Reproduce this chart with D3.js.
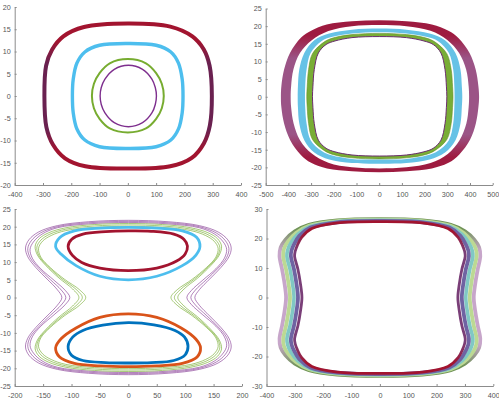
<!DOCTYPE html>
<html>
<head>
<meta charset="utf-8">
<script src="https://cdn.jsdelivr.net/npm/d3@7"></script>
<style>
    body { margin: 0; background: #fff; }
    svg { display: block; }
    .tick text { font-family: Arial, "Liberation Sans", sans-serif; font-size: 7.2px; fill: #555; }
    .domain, .tick line { stroke: #8c8c8c; }
</style>
</head>
<body>
<svg id="chart" width="499" height="403"></svg>
<script>
/**
 * Tick labels of the four panels.
 */
const p1XTicks = [-400, -300, -200, -100, 0, 100, 200, 300, 400],
    p1YTicks = [-20, -15, -10, -5, 0, 5, 10, 15, 20],
    p2XTicks = [-500, -400, -300, -200, -100, 0, 100, 200, 300, 400, 500],
    p2YTicks = [-25, -20, -15, -10, -5, 0, 5, 10, 15, 20, 25],
    p3XTicks = [-200, -150, -100, -50, 0, 50, 100, 150, 200],
    p3YTicks = [-25, -20, -15, -10, -5, 0, 5, 10, 15, 20, 25],
    p4XTicks = [-400, -300, -200, -100, 0, 100, 200, 300, 400],
    p4YTicks = [-30, -20, -10, 0, 10, 20, 30];

/**
 * Panel 1: four closed orbits.
 */
const p1Outer = [[0,16.3],[150,15.6],[228,13.4],[268,10.5],[289,6.8],[297,0],[290,-6.6],[269,-10.6],[226,-13.9],[150,-15.8],[0,-16.3],[-150,-15.8],[-222,-14.0],[-265,-10.9],[-288,-7.0],[-295,0],[-289,6.8],[-268,10.4],[-228,13.4],[-155,15.5]];
const p1Cyan = [[0,11.8],[100,11.4],[152,9.9],[179,7.4],[192,3.8],[195,0],[192,-3.8],[179,-7.4],[152,-9.9],[100,-11.4],[0,-11.8],[-100,-11.4],[-152,-9.9],[-180,-7.4],[-193,-3.8],[-196,0],[-193,3.8],[-180,7.4],[-152,9.9],[-100,11.4]];
const p1Green = [[0,8.3],[64,7.35],[100,5.15],[120,2.75],[127,0],[120,-2.75],[100,-5.15],[64,-7.3],[0,-8.2],[-64,-7.3],[-100,-5.15],[-120,-2.75],[-127,0],[-120,2.75],[-100,5.15],[-64,7.35]];
const p1Purple = [[2,6.9],[52,6.0],[85,3.8],[97,1.9],[101,0],[97,-1.9],[85,-3.8],[52,-6.0],[2,-6.9],[-48,-6.0],[-81,-3.8],[-94,-1.9],[-98,0],[-94,1.9],[-81,3.8],[-48,6.0]];

/**
 * Panel 2: three bands of orbits (outer and inner edge of each) and one thin orbit.
 */
const p2OuterOut = [[0,21.7],[120,21.4],[232,20.5],[305,18.7],[350,16.6],[398,12.4],[425,7.7],[437,3],[440,0],[437,-3],[426,-7.5],[400,-12.2],[352,-16.4],[303,-18.8],[232,-20.3],[120,-21.1],[0,-21.4],[-120,-21.1],[-230,-20.3],[-300,-18.7],[-346,-16.4],[-392,-12.3],[-419,-7.6],[-431,-3],[-433,0],[-431,3],[-419,7.7],[-393,12.4],[-344,16.8],[-300,18.7],[-231,20.5],[-120,21.4]];
const p2OuterIn = [[0,20.3],[120,20.0],[226,18.7],[300,16.1],[352,12.4],[383,7.7],[394,3],[396,0],[394,-3],[384,-7.6],[354,-12.3],[302,-16.2],[226,-18.8],[120,-20.0],[0,-20.3],[-120,-20.0],[-224,-18.7],[-297,-16.1],[-349,-12.3],[-377,-7.6],[-388,-3],[-390,0],[-388,3],[-378,7.7],[-349,12.4],[-297,16.0],[-224,18.6],[-120,20.0]];
const p2CyanOut = [[0,19.3],[120,19.0],[222,17.9],[290,16.0],[336,12.4],[358,7.7],[364,3],[366,0],[364,-3],[358,-7.6],[336,-12.3],[290,-15.8],[222,-17.8],[120,-18.8],[0,-19.0],[-120,-18.8],[-220,-17.8],[-286,-15.8],[-330,-12.3],[-352,-7.6],[-358,-3],[-359,0],[-358,3],[-352,7.7],[-330,12.4],[-286,16.0],[-220,17.9],[-120,19.0]];
const p2CyanIn = [[0,18.25],[120,17.9],[212,16.9],[258,15.8],[307,12.4],[326,7.7],[331,3],[332,0],[331,-3],[326,-7.6],[307,-12.3],[258,-15.4],[212,-16.6],[120,-17.6],[0,-17.8],[-120,-17.6],[-210,-16.6],[-253,-15.4],[-302,-12.3],[-320,-7.6],[-326,-3],[-327,0],[-326,3],[-320,7.7],[-302,12.4],[-253,15.8],[-210,16.9],[-120,17.9]];
const p2GreenOut = [[0,17.95],[120,17.6],[203,16.7],[246,15.5],[298,12.2],[317,7.7],[323,3],[325,0],[323,-3],[317,-7.6],[298,-12.1],[246,-15.2],[203,-16.4],[120,-17.3],[0,-17.6],[-120,-17.3],[-201,-16.4],[-243,-15.2],[-294,-12.1],[-311,-7.6],[-317,-3],[-319,0],[-317,3],[-311,7.7],[-294,12.2],[-243,15.5],[-201,16.7],[-120,17.6]];
const p2GreenIn = [[0,17.05],[120,16.75],[197,15.8],[238,14.8],[272,12.4],[290,7.7],[296,3],[298,0],[296,-3],[290,-7.6],[272,-12.3],[238,-14.6],[197,-15.6],[120,-16.5],[0,-16.8],[-120,-16.5],[-195,-15.6],[-234,-14.6],[-268,-12.3],[-286,-7.6],[-292,-3],[-294,0],[-292,3],[-286,7.7],[-268,12.4],[-234,14.8],[-195,15.8],[-120,16.75]];

/**
 * Panel 3: four lobes and two bundles of hourglass orbits.
 */
const p3RedLobe = [[-106,14.5],[-100,16.4],[-80,17.9],[-40,18.6],[0,18.8],[40,18.7],[80,17.9],[98,16.4],[104,14.5],[100,12.3],[85,10.3],[50,8.3],[0,7.6],[-50,8.3],[-82,9.9],[-98,11.8]];
const p3CyanLobe = [[-128,14.4],[-121,16.9],[-95,18.8],[-50,19.6],[0,19.8],[50,19.6],[95,18.8],[120,17.0],[126,14.4],[119,12.0],[95,9.0],[50,6.0],[0,5.0],[-50,6.0],[-92,9.0],[-118,12.2]];
const p3BlueLobe = [[-106,-13.8],[-98,-11.2],[-80,-9.3],[-45,-7.8],[0,-7.1],[45,-7.7],[82,-9.3],[99,-11.2],[105,-13.8],[100,-16.2],[80,-17.8],[40,-18.4],[0,-18.5],[-40,-18.4],[-80,-17.8],[-100,-16.3]];
const p3OrangeLobe = [[-128,-14.2],[-118,-11.6],[-92,-8.6],[-50,-5.6],[0,-4.6],[50,-5.6],[93,-8.6],[119,-11.8],[127,-14.2],[121,-16.8],[95,-18.6],[50,-19.3],[0,-19.5],[-50,-19.3],[-95,-18.6],[-121,-16.8]];
const p3Green1 = [[0,20.9],[60,20.6],[110,19.7],[140,18.3],[157,16.6],[164,14.5],[160,12],[145,9],[122,5.5],[98,2.4],[87,0],[98,-2.4],[122,-5.5],[145,-9],[160,-12],[164,-14.5],[157,-16.6],[140,-18.3],[110,-19.7],[60,-20.6],[0,-20.9],[-60,-20.6],[-110,-19.7],[-140,-18.3],[-157,-16.6],[-164,-14.5],[-160,-12],[-145,-9],[-122,-5.5],[-98,-2.4],[-87,0],[-98,2.4],[-122,5.5],[-145,9],[-160,12],[-164,14.5],[-157,16.6],[-140,18.3],[-110,19.7],[-60,20.6]];
const p3Green2 = [[0,20.5],[60,20.2],[110,19.3],[138,17.9],[154,16.2],[161,14.2],[157,11.7],[141,8.7],[117,5.3],[92,2.3],[81,0],[92,-2.3],[117,-5.3],[141,-8.7],[157,-11.7],[161,-14.2],[154,-16.2],[138,-17.9],[110,-19.3],[60,-20.2],[0,-20.5],[-60,-20.2],[-110,-19.3],[-138,-17.9],[-154,-16.2],[-161,-14.2],[-157,-11.7],[-141,-8.7],[-117,-5.3],[-92,-2.3],[-81,0],[-92,2.3],[-117,5.3],[-141,8.7],[-157,11.7],[-161,14.2],[-154,16.2],[-138,17.9],[-110,19.3],[-60,20.2]];
const p3Green3 = [[0,20.1],[60,19.8],[110,18.9],[136,17.5],[151,15.9],[158,13.9],[154,11.4],[137,8.4],[112,5.1],[86,2.2],[75,0],[86,-2.2],[112,-5.1],[137,-8.4],[154,-11.4],[158,-13.9],[151,-15.9],[136,-17.5],[110,-18.9],[60,-19.8],[0,-20.1],[-60,-19.8],[-110,-18.9],[-136,-17.5],[-151,-15.9],[-158,-13.9],[-154,-11.4],[-137,-8.4],[-112,-5.1],[-86,-2.2],[-75,0],[-86,2.2],[-112,5.1],[-137,8.4],[-154,11.4],[-158,13.9],[-151,15.9],[-136,17.5],[-110,18.9],[-60,19.8]];
const p3Purple1 = [[0,21.8],[70,21.4],[125,20.3],[158,18.5],[175,16.3],[181,14],[177,11.5],[163,8.5],[143,5.2],[125,2.2],[117,0],[125,-2.2],[143,-5.2],[163,-8.5],[177,-11.5],[181,-14],[175,-16.3],[158,-18.5],[125,-20.3],[70,-21.4],[0,-21.8],[-70,-21.4],[-125,-20.3],[-158,-18.5],[-175,-16.3],[-181,-14],[-177,-11.5],[-163,-8.5],[-143,-5.2],[-125,-2.2],[-117,0],[-125,2.2],[-143,5.2],[-163,8.5],[-177,11.5],[-181,14],[-175,16.3],[-158,18.5],[-125,20.3],[-70,21.4]];
const p3Purple2 = [[0,21.5],[70,21.1],[125,20.0],[155,18.2],[171,16.0],[177,13.8],[173,11.3],[158,8.3],[137,5.0],[118,2.1],[110,0],[118,-2.1],[137,-5.0],[158,-8.3],[173,-11.3],[177,-13.8],[171,-16.0],[155,-18.2],[125,-20.0],[70,-21.1],[0,-21.5],[-70,-21.1],[-125,-20.0],[-155,-18.2],[-171,-16.0],[-177,-13.8],[-173,-11.3],[-158,-8.3],[-137,-5.0],[-118,-2.1],[-110,0],[-118,2.1],[-137,5.0],[-158,8.3],[-173,11.3],[-177,13.8],[-171,16.0],[-155,18.2],[-125,20.0],[-70,21.1]];
const p3Purple3 = [[0,21.2],[70,20.8],[125,19.7],[152,17.9],[167,15.7],[173,13.6],[169,11.1],[154,8.1],[131,4.9],[111,2.0],[103,0],[111,-2.0],[131,-4.9],[154,-8.1],[169,-11.1],[173,-13.6],[167,-15.7],[152,-17.9],[125,-19.7],[70,-20.8],[0,-21.2],[-70,-20.8],[-125,-19.7],[-152,-17.9],[-167,-15.7],[-173,-13.6],[-169,-11.1],[-154,-8.1],[-131,-4.9],[-111,-2.0],[-103,0],[-111,2.0],[-131,4.9],[-154,8.1],[-169,11.1],[-173,13.6],[-167,15.7],[-152,17.9],[-125,19.7],[-70,20.8]];

/**
 * Panel 4: one wide bundle of orbits, outermost first.
 */
const p4Orbit1 = [[0,26.55],[150,26.1],[250,24.6],[300,22.4],[333,19.6],[350,17],[354,14],[345,9.5],[336,4.5],[331,0],[336,-4.5],[345,-9.5],[354,-14],[350,-17],[333,-19.6],[300,-22.4],[250,-24.6],[150,-26.1],[0,-26.55],[-150,-26.1],[-250,-24.6],[-300,-22.4],[-333,-19.6],[-350,-17],[-354,-14],[-345,-9.5],[-336,-4.5],[-331,0],[-336,4.5],[-345,9.5],[-354,14],[-350,17],[-333,19.6],[-300,22.4],[-250,24.6],[-150,26.1]];
const p4Orbit2 = [[0,26.35],[150,25.9],[250,24.3],[296,21.9],[324,19.0],[338,16.6],[341,14],[331,9.5],[322,4.5],[317,0],[322,-4.5],[331,-9.5],[341,-14],[338,-16.6],[324,-19.0],[296,-21.9],[250,-24.3],[150,-25.9],[0,-26.35],[-150,-25.9],[-250,-24.3],[-296,-21.9],[-324,-19.0],[-338,-16.6],[-341,-14],[-331,-9.5],[-322,-4.5],[-317,0],[-322,4.5],[-331,9.5],[-341,14],[-338,16.6],[-324,19.0],[-296,21.9],[-250,24.3],[-150,25.9]];
const p4Orbit3 = [[0,26.15],[150,25.7],[248,24.0],[290,21.4],[314,18.5],[325,16.2],[328,14],[317,9.5],[308,4.5],[303,0],[308,-4.5],[317,-9.5],[328,-14],[325,-16.2],[314,-18.5],[290,-21.4],[248,-24.0],[150,-25.7],[0,-26.15],[-150,-25.7],[-248,-24.0],[-290,-21.4],[-314,-18.5],[-325,-16.2],[-328,-14],[-317,-9.5],[-308,-4.5],[-303,0],[-308,4.5],[-317,9.5],[-328,14],[-325,16.2],[-314,18.5],[-290,21.4],[-248,24.0],[-150,25.7]];
const p4Orbit4 = [[0,25.95],[150,25.5],[245,23.7],[284,20.9],[303,18.0],[312,15.9],[314,14],[303,9.5],[294,4.5],[289,0],[294,-4.5],[303,-9.5],[314,-14],[312,-15.9],[303,-18.0],[284,-20.9],[245,-23.7],[150,-25.5],[0,-25.95],[-150,-25.5],[-245,-23.7],[-284,-20.9],[-303,-18.0],[-312,-15.9],[-314,-14],[-303,-9.5],[-294,-4.5],[-289,0],[-294,4.5],[-303,9.5],[-314,14],[-312,15.9],[-303,18.0],[-284,20.9],[-245,23.7],[-150,25.5]];
const p4Orbit5 = [[0,25.75],[150,25.3],[240,23.4],[276,20.4],[292,17.5],[299,15.6],[301,14],[289,9.5],[280,4.5],[275,0],[280,-4.5],[289,-9.5],[301,-14],[299,-15.6],[292,-17.5],[276,-20.4],[240,-23.4],[150,-25.3],[0,-25.75],[-150,-25.3],[-240,-23.4],[-276,-20.4],[-292,-17.5],[-299,-15.6],[-301,-14],[-289,-9.5],[-280,-4.5],[-275,0],[-280,4.5],[-289,9.5],[-301,14],[-299,15.6],[-292,17.5],[-276,20.4],[-240,23.4],[-150,25.3]];

const svg = d3.select('#chart');
const defs = svg.append('defs');

/**
 * Vertical gradient: one colour at top and bottom, another along the sides.
 */
function addGradient(id, ends, sides, a, b) {
    const grad = defs.append('linearGradient').attr('id', id)
        .attr('x1', 0).attr('y1', 0).attr('x2', 0).attr('y2', 1);
    [[0, ends], [a, ends], [b, sides], [1 - b, sides], [1 - a, ends], [1, ends]]
        .forEach(s => grad.append('stop').attr('offset', s[0]).attr('stop-color', s[1]));
}

addGradient('g1', '#a2142f', '#6a2150', 0.12, 0.27);
addGradient('g2', '#9e1b40', '#9b5486', 0.1, 0.25);
addGradient('g4a', '#6f9257', '#c7a6ca', 0.06, 0.2);
addGradient('g4b', '#a2142f', '#7a3f78', 0.07, 0.2);

/**
 * Draws the axes of one panel and returns its line generator.
 */
function panel(box, xDomain, yDomain, xTicks, yTicks) {
    const x = d3.scaleLinear().domain(xDomain).range([box.left, box.right]);
    const y = d3.scaleLinear().domain(yDomain).range([box.bottom, box.top]);
    const g = svg.append('g');

    g.append('g').attr('transform', 'translate(0,' + box.bottom + ')')
        .call(d3.axisBottom(x).tickValues(xTicks).tickFormat(d => String(d))
            .tickSizeInner(-2).tickSizeOuter(0).tickPadding(6.4));
    g.append('g').attr('transform', 'translate(' + box.left + ',0)')
        .call(d3.axisLeft(y).tickValues(yTicks).tickFormat(d => String(d))
            .tickSizeInner(-2).tickSizeOuter(0).tickPadding(4));

    const line = d3.line().x(d => x(d[0])).y(d => y(d[1])).curve(d3.curveCatmullRomClosed);
    return { g, line };
}

function orbit(p, pts, color, w, op) {
    p.g.append('path').attr('d', p.line(pts))
        .attr('fill', 'none').attr('stroke', color).attr('stroke-width', w)
        .attr('stroke-opacity', op == null ? 1 : op).attr('stroke-linejoin', 'round');
}

function band(p, outer, inner, color) {
    return p.g.append('path').attr('d', p.line(outer) + p.line(inner))
        .attr('fill', color).attr('fill-rule', 'evenodd');
}

// Panel 1
const a = panel({ left: 14.7, right: 241, top: 7, bottom: 185 }, [-400, 400], [-20, 20], p1XTicks, p1YTicks);
orbit(a, p1Outer, 'url(#g1)', 4);
orbit(a, p1Cyan, '#4DBEEE', 3.4);
orbit(a, p1Green, '#77AC30', 2);
orbit(a, p1Purple, '#7E2F8E', 1.4);

// Panel 2
const b = panel({ left: 265.7, right: 492.7, top: 8.5, bottom: 185 }, [-500, 500], [-25, 25], p2XTicks, p2YTicks);
band(b, p2OuterOut, p2OuterIn, 'url(#g2)');
band(b, p2CyanOut, p2CyanIn, '#66c2e6');
band(b, p2GreenOut, p2GreenIn, '#79ad35');
orbit(b, p2GreenOut, '#5f8f2a', 0.6);
orbit(b, p2GreenIn, '#6a2c6e', 1);

// Panel 3
const c = panel({ left: 14.7, right: 242, top: 209, bottom: 386 }, [-200, 200], [-25, 25], p3XTicks, p3YTicks);
[p3Purple1, p3Purple2, p3Purple3].forEach(d => orbit(c, d, '#7E2F8E', 1, 0.6));
[p3Green1, p3Green2, p3Green3].forEach(d => orbit(c, d, '#77AC30', 1, 0.65));
orbit(c, p3CyanLobe, '#4DBEEE', 2.8);
orbit(c, p3RedLobe, '#A2142F', 2.8);
orbit(c, p3OrangeLobe, '#D95319', 2.8);
orbit(c, p3BlueLobe, '#0072BD', 2.8);

// Panel 4
const e = panel({ left: 266.5, right: 493.3, top: 209, bottom: 386 }, [-400, 400], [-30, 30], p4XTicks, p4YTicks);
orbit(e, p4Orbit1, 'url(#g4a)', 3.8);
orbit(e, p4Orbit2, '#bcd993', 3.8);
orbit(e, p4Orbit3, '#80c8c4', 3.6);
orbit(e, p4Orbit4, '#6f63a2', 3.8);
orbit(e, p4Orbit5, 'url(#g4b)', 2.8);
</script>
</body>
</html>
